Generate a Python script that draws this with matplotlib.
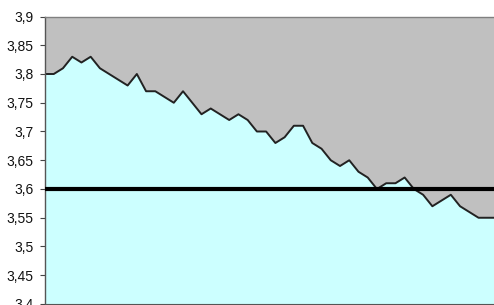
import matplotlib
matplotlib.use("Agg")
import matplotlib.pyplot as plt
from matplotlib.ticker import FuncFormatter, MultipleLocator

values = [3.80, 3.80, 3.81, 3.83, 3.82, 3.83, 3.81, 3.80, 3.79, 3.78,
          3.80, 3.77, 3.77, 3.76, 3.75, 3.77, 3.75, 3.73, 3.74, 3.73,
          3.72, 3.73, 3.72, 3.70, 3.70, 3.68, 3.69, 3.71, 3.71, 3.68,
          3.67, 3.65, 3.64, 3.65, 3.63, 3.62, 3.60, 3.61, 3.61, 3.62,
          3.60, 3.59, 3.57, 3.58, 3.59, 3.57, 3.56, 3.55, 3.55, 3.55]
reference_level = 3.6
y_min, y_max = 3.4, 3.9

x = list(range(len(values)))

W, H = 494, 305
fig = plt.figure(figsize=(W / 100, H / 100), dpi=100)
fig.patch.set_facecolor("white")
left_px, right_px, top_px, bottom_px = 44.5, 497, 16.5, 304
ax = fig.add_axes([left_px / W, (H - bottom_px) / H,
                   (right_px - left_px) / W, (bottom_px - top_px) / H])
ax.set_facecolor("#C0C0C0")
ax.fill_between(x, y_min, values, color="#CCFFFF", linewidth=0, zorder=1)
ax.plot(x, values, color="#222222", linewidth=1.4, zorder=2)
ax.axhline(reference_level, color="black", linewidth=3.0, zorder=3)

ax.set_xlim(0, len(values) - 1)
ax.set_ylim(y_min, y_max)
ax.yaxis.set_major_locator(MultipleLocator(0.05))
ax.yaxis.set_major_formatter(FuncFormatter(
    lambda v, p: f"{v:.2f}".rstrip("0").rstrip(".").replace(".", ",")))
ax.set_xticks([])
ax.tick_params(axis="y", length=3.6, width=0.8, color="#444444", pad=4.3,
               labelsize=10, labelcolor="#111111")
for lbl in ax.get_yticklabels():
    lbl.set_fontfamily("Liberation Sans")
ax.spines["right"].set_visible(False)
ax.spines["top"].set_color("#808080")
ax.spines["top"].set_linewidth(1.0)
ax.spines["left"].set_color("#555555")
ax.spines["left"].set_linewidth(1.0)
ax.spines["bottom"].set_color("#555555")

fig.savefig("out.png", dpi=100)
